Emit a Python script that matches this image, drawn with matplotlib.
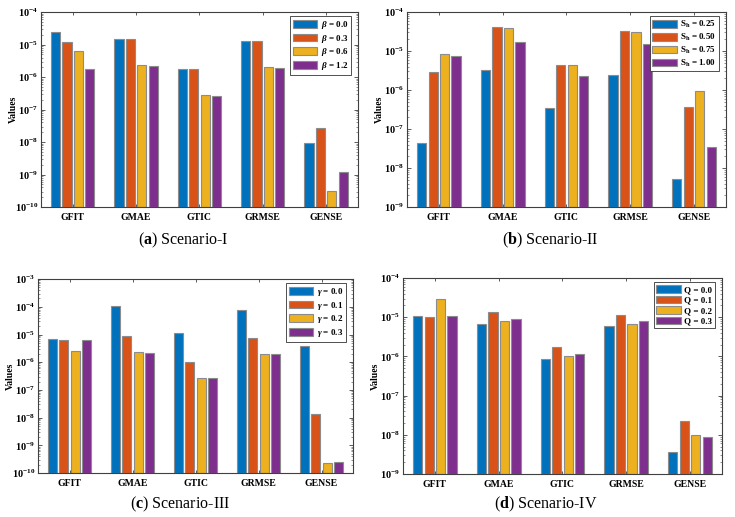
import matplotlib
matplotlib.use("Agg")
import matplotlib.pyplot as plt
import numpy as np

plt.rcParams['font.family'] = ['Liberation Serif', 'DejaVu Serif']
plt.rcParams['font.weight'] = 'bold'
plt.rcParams['mathtext.fontset'] = 'custom'
plt.rcParams['mathtext.rm'] = 'Liberation Serif:bold'
plt.rcParams['mathtext.bf'] = 'Liberation Serif:bold'
plt.rcParams['mathtext.it'] = 'Liberation Serif:italic:bold'

categories = ["GFIT", "GMAE", "GTIC", "GRMSE", "GENSE"]
colors = ["#0072BD", "#D95319", "#EDB120", "#7E2F8E"]

# Scenario-I
labels_a = [r"$\beta$ = 0.0", r"$\beta$ = 0.3", r"$\beta$ = 0.6", r"$\beta$ = 1.2"]
vals_a = [
    [2.4e-5, 1.45e-5, 1.8e-6, 1.26e-5, 9.5e-9],
    [1.17e-5, 1.45e-5, 1.74e-6, 1.26e-5, 2.8e-8],
    [6.3e-6, 2.35e-6, 2.9e-7, 2.1e-6, 3.2e-10],
    [1.8e-6, 2.25e-6, 2.57e-7, 1.95e-6, 1.23e-9],
]
# Scenario-II
labels_b = [r"S$_\mathregular{h}$ = 0.25", r"S$_\mathregular{h}$ = 0.50",
            r"S$_\mathregular{h}$ = 0.75", r"S$_\mathregular{h}$ = 1.00"]
vals_b = [
    [4.4e-8, 3.2e-6, 3.4e-7, 2.5e-6, 5.2e-9],
    [2.96e-6, 4.06e-5, 4.5e-6, 3.2e-5, 3.6e-7],
    [8.3e-6, 3.9e-5, 4.3e-6, 3.0e-5, 9.3e-7],
    [7.5e-6, 1.7e-5, 2.25e-6, 1.5e-5, 3.4e-8],
]
# Scenario-III
labels_c = [r"$\gamma$ = 0.0", r"$\gamma$ = 0.1", r"$\gamma$ = 0.2", r"$\gamma$ = 0.3"]
vals_c = [
    [6.7e-6, 1.04e-4, 1.1e-5, 7.6e-5, 3.9e-6],
    [6.2e-6, 8.9e-6, 1.05e-6, 7.3e-6, 1.35e-8],
    [2.5e-6, 2.3e-6, 2.8e-7, 2.05e-6, 2.35e-10],
    [6.3e-6, 2.2e-6, 2.6e-7, 1.95e-6, 2.6e-10],
]
# Scenario-IV
labels_d = ["Q = 0.0", "Q = 0.1", "Q = 0.2", "Q = 0.3"]
vals_d = [
    [1.1e-5, 6.7e-6, 8.7e-7, 6.0e-6, 3.6e-9],
    [1.0e-5, 1.35e-5, 1.7e-6, 1.12e-5, 2.2e-8],
    [2.9e-5, 7.9e-6, 1.02e-6, 6.9e-6, 9.8e-9],
    [1.1e-5, 8.9e-6, 1.12e-6, 7.9e-6, 8.7e-9],
]

panels = [
    (vals_a, labels_a, (1e-10, 1e-4), [0.0558, 0.5996, 0.431, 0.377], "a", "Scenario-I", (183, 240)),
    (vals_b, labels_b, (1e-9, 1e-4), [0.5537, 0.5996, 0.434, 0.377], "b", "Scenario-II", (550, 240)),
    (vals_c, labels_c, (1e-10, 1e-3), [0.0517, 0.0851, 0.4286, 0.375], "c", "Scenario-III", (180, 504)),
    (vals_d, labels_d, (1e-9, 1e-4), [0.5483, 0.0832, 0.434, 0.379], "d", "Scenario-IV", (546, 504)),
]

W, H = 735, 517
fig = plt.figure(figsize=(W / 100, H / 100), dpi=100)

x = np.arange(1, len(categories) + 1)
step = 0.18
bw = 0.145
for vals, labels, ylim, rect, letter, name, cap in panels:
    ax = fig.add_axes(rect)
    ax.set_yscale('log')
    for i, (v, lab) in enumerate(zip(vals, labels)):
        offs = (i - 1.5) * step
        ax.bar(x + offs, np.array(v) - ylim[0], width=bw, bottom=ylim[0], color=colors[i],
               edgecolor='#8c8c8c', linewidth=0.8, label=lab)
    ax.set_ylim(*ylim)
    ax.set_xlim(0.5, 5.5)
    ax.set_xticks(x)
    ax.set_xticklabels(categories, fontsize=7, fontweight='bold')
    ax.yaxis.set_major_locator(matplotlib.ticker.LogLocator(base=10, numticks=20))
    ax.yaxis.set_minor_locator(matplotlib.ticker.LogLocator(base=10, subs=np.arange(2, 10), numticks=20))
    ax.yaxis.set_minor_formatter(matplotlib.ticker.NullFormatter())
    ax.tick_params(axis='both', which='both', direction='in', width=0.6,
                   top=True, right=True, color='#404040')
    ax.tick_params(axis='y', which='major', labelsize=7.5, pad=2, length=3)
    ax.tick_params(axis='y', which='minor', length=1.6, width=0.4)
    ax.tick_params(axis='x', length=2, pad=4)
    for s in ax.spines.values():
        s.set_color('#404040')
        s.set_linewidth(0.8)
    ax.set_ylabel("Values", fontsize=7, fontweight='bold')
    ax.yaxis.set_label_coords(-0.072, 0.5)
    leg = ax.legend(loc='upper right', bbox_to_anchor=(0.978, 0.978), borderaxespad=0,
                    fontsize=6.5, handlelength=2.7, handleheight=0.9, labelspacing=0.18,
                    handletextpad=0.4, borderpad=0.3, fancybox=False, framealpha=1,
                    edgecolor='#333333')
    leg.get_frame().set_linewidth(0.6)
    fig.text(cap[0] / W, 1 - cap[1] / H, r"($\mathbf{" + letter + r"}$) " + name,
             ha='center', va='center', fontsize=11.5, fontweight='normal')

fig.savefig("out.png", dpi=100)
